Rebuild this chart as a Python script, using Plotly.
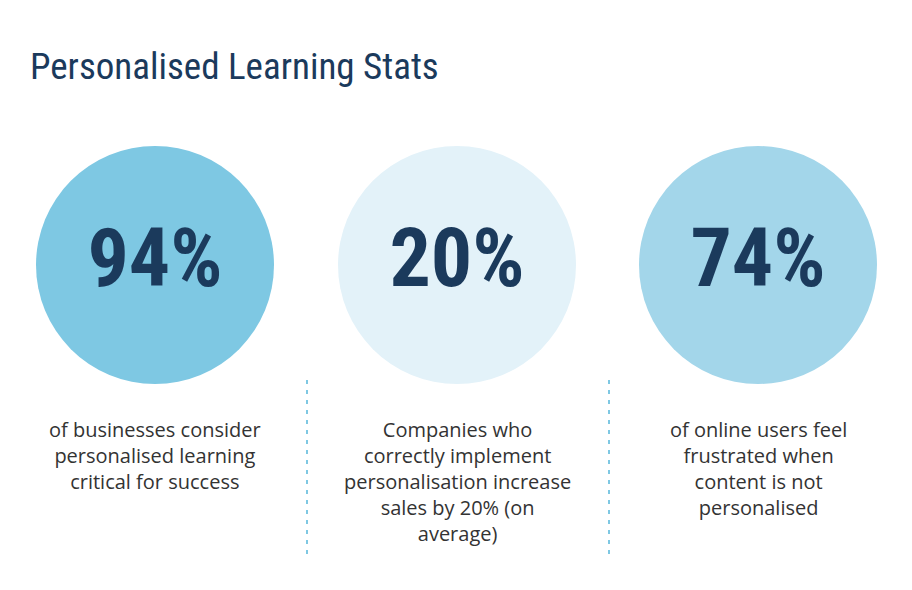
import plotly.graph_objects as go

# data
title = "Personalised Learning Stats"
stats = ["94%", "20%", "74%"]
captions = [
    "of businesses consider<br>personalised learning<br>critical for success",
    "Companies who<br>correctly implement<br>personalisation increase<br>sales by 20% (on<br>average)",
    "of online users feel<br>frustrated when<br>content is not<br>personalised",
]
circle_colors = ["#7ec8e3", "#e3f2f9", "#a3d6ea"]
centers_x = [155, 457, 758]
divider_x = [307, 609]

W, H = 912, 590
OFF = 8  # page body margin
navy = "#1b3a5c"

fig = go.Figure()

# circles
fig.add_trace(go.Scatter(
    x=centers_x, y=[265] * 3, mode="markers+text",
    marker=dict(size=238, color=circle_colors, line=dict(width=0)),
    text=stats, textposition="middle center",
    textfont=dict(family="Liberation Sans Narrow, Roboto Condensed, Arial Narrow",
                  size=82, color=navy),
    texttemplate="<b>%{text}</b>",
    hoverinfo="skip", showlegend=False,
))

# captions
for cx, cap in zip(centers_x, captions):
    fig.add_annotation(x=cx, y=414, text=cap, showarrow=False, yanchor="top",
                       xanchor="center", align="center",
                       font=dict(family="Open Sans", size=20, color="#333333"))

# dashed dividers
for dx in divider_x:
    fig.add_trace(go.Scatter(x=[dx, dx], y=[380, 556], mode="lines",
                             line=dict(color="#7ec8e3", width=2, dash="4px,6px"),
                             hoverinfo="skip", showlegend=False))

fig.add_annotation(x=28, y=66, text=title, showarrow=False, xanchor="left",
                   yanchor="middle",
                   font=dict(family="Liberation Sans Narrow, Roboto Condensed", size=37,
                             color=navy))

fig.update_xaxes(range=[OFF, W + OFF], visible=False, fixedrange=True)
fig.update_yaxes(range=[H + OFF, OFF], visible=False, fixedrange=True)
fig.update_layout(width=W, height=H, margin=dict(l=0, r=0, t=0, b=0),
                  plot_bgcolor="white", paper_bgcolor="white")

fig.write_html("out.html")
